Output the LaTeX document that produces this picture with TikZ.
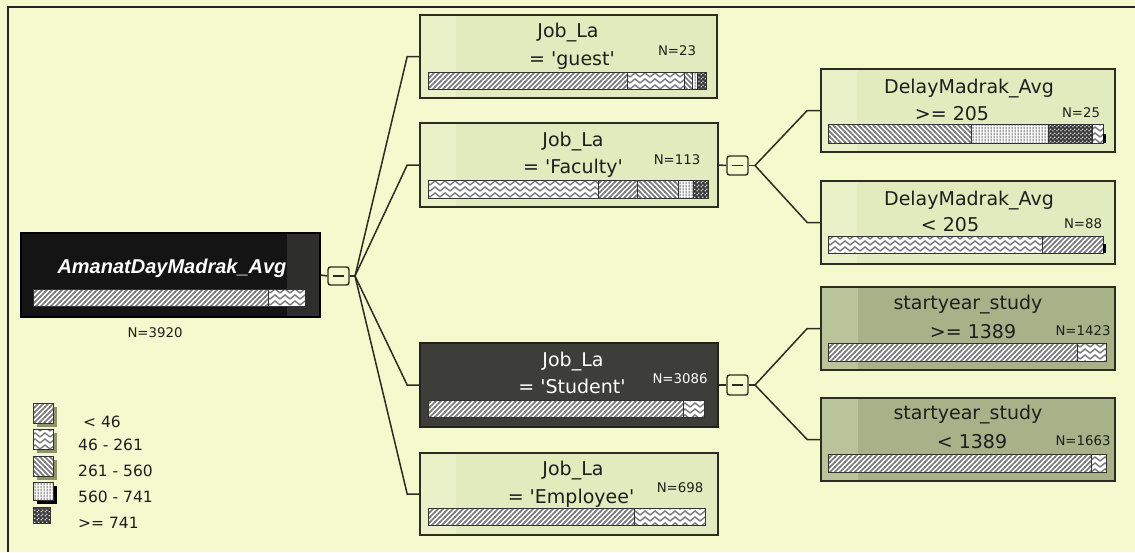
\documentclass[tikz,border=0pt]{standalone}
\usepackage{fontspec}
\setmainfont{DejaVu Sans}
\newfontfamily\arialf{Liberation Sans}
\usetikzlibrary{patterns}
\definecolor{bgc}{HTML}{F4FACD}
\definecolor{boxc}{HTML}{E2EBBD}
\definecolor{boxlite}{HTML}{EAF1C8}
\definecolor{olivc}{HTML}{A9B189}
\definecolor{olivlite}{HTML}{BBC39B}
\definecolor{studc}{HTML}{3D3E39}
\definecolor{rootc}{HTML}{141414}
\definecolor{rootlite}{HTML}{2E2E2C}
\definecolor{bordc}{HTML}{2A2D22}
\definecolor{txtc}{HTML}{1E1E1E}
\definecolor{hatchc}{HTML}{787878}
\definecolor{checkc}{HTML}{3A3A3A}
\definecolor{shadc}{HTML}{8E9468}
\pgfdeclarepatternformonly{hfwd}{\pgfqpoint{-1pt}{-1pt}}{\pgfqpoint{6pt}{6pt}}{\pgfqpoint{5pt}{5pt}}{%
  \pgfsetlinewidth{1.7pt}\pgfpathmoveto{\pgfqpoint{-0.5pt}{-0.5pt}}\pgfpathlineto{\pgfqpoint{5.5pt}{5.5pt}}\pgfusepath{stroke}}
\pgfdeclarepatternformonly{hbwd}{\pgfqpoint{-1pt}{-1pt}}{\pgfqpoint{6pt}{6pt}}{\pgfqpoint{5pt}{5pt}}{%
  \pgfsetlinewidth{1.7pt}\pgfpathmoveto{\pgfqpoint{-0.5pt}{5.5pt}}\pgfpathlineto{\pgfqpoint{5.5pt}{-0.5pt}}\pgfusepath{stroke}}
\pgfdeclarepatternformonly{hwave}{\pgfqpoint{0pt}{-1pt}}{\pgfqpoint{10pt}{7pt}}{\pgfqpoint{10pt}{6pt}}{%
  \pgfsetlinewidth{1.4pt}\pgfpathmoveto{\pgfqpoint{0pt}{1pt}}\pgfpathlineto{\pgfqpoint{5pt}{5pt}}\pgfpathlineto{\pgfqpoint{10pt}{1pt}}\pgfusepath{stroke}}
\pgfdeclarepatternformonly{hvert}{\pgfqpoint{0pt}{0pt}}{\pgfqpoint{2.6pt}{2.6pt}}{\pgfqpoint{2.6pt}{2.6pt}}{%
  \pgfsetlinewidth{1.1pt}\pgfpathmoveto{\pgfqpoint{1.3pt}{0pt}}\pgfpathlineto{\pgfqpoint{1.3pt}{2.6pt}}\pgfusepath{stroke}}
\pgfdeclarepatternformonly{hcheck}{\pgfqpoint{0pt}{0pt}}{\pgfqpoint{4pt}{4pt}}{\pgfqpoint{4pt}{4pt}}{%
  \pgfpathrectangle{\pgfqpoint{0pt}{0pt}}{\pgfqpoint{4pt}{4pt}}\pgfusepath{fill}}
\pgfdeclarepatternformonly{hdots}{\pgfqpoint{0pt}{0pt}}{\pgfqpoint{4pt}{4pt}}{\pgfqpoint{4pt}{4pt}}{%
  \pgfpathrectangle{\pgfqpoint{0.6pt}{0.6pt}}{\pgfqpoint{1.5pt}{1.5pt}}\pgfpathrectangle{\pgfqpoint{2.6pt}{2.6pt}}{\pgfqpoint{1.5pt}{1.5pt}}\pgfusepath{fill}}
\newcommand\barseg[5]{%
  \fill[white] (#1,#3) rectangle (#2,#4);
  \fill[pattern=#5,pattern color=hatchc] (#1,#3) rectangle (#2,#4);
  \draw[segline] (#1,#3) rectangle (#2,#4);}
\newcommand\checkseg[4]{%
  \fill[checkc] (#1,#3) rectangle (#2,#4);
  \fill[pattern=hdots,pattern color=white!85!black] (#1,#3) rectangle (#2,#4);
  \draw[segline] (#1,#3) rectangle (#2,#4);}
\newcommand\qs{\textquotesingle}
\tikzset{
  segline/.style={draw=black!80, line width=0.7pt},
  lightbox/.style={draw=bordc, line width=1.6pt, fill=boxc, inner sep=0pt,
    path picture={\fill[boxlite] (path picture bounding box.south west) rectangle ([xshift=36pt]path picture bounding box.north west);}},
  olivbox/.style={draw=bordc, line width=1.6pt, fill=olivc, inner sep=0pt,
    path picture={\fill[olivlite] (path picture bounding box.south west) rectangle ([xshift=37pt]path picture bounding box.north west);}},
  darkbox/.style={draw=bordc!80!black, line width=1.6pt, fill=studc, inner sep=0pt},
  rootbox/.style={draw=black, line width=1.6pt, fill=rootc, inner sep=0pt,
    path picture={\fill[rootlite] ([xshift=-33pt]path picture bounding box.south east) rectangle (path picture bounding box.north east);}},
  lbl/.style={anchor=base, inner sep=0pt, font=\fontsize{19}{22}\selectfont, text=txtc},
  nlbl/.style={anchor=base, inner sep=0pt, font=\fontsize{13.3}{15}\selectfont, text=txtc},
  roottxt/.style={anchor=base, inner sep=0pt, font=\arialf\bfseries\itshape\fontsize{20}{24}\selectfont, text=white},
  legtxt/.style={anchor=base west, inner sep=0pt, font=\fontsize{15.5}{18}\selectfont, text=txtc},
  collapse/.style={draw=bordc, line width=1.4pt, fill=bgc, rounded corners=2.5pt, minimum width=21pt, minimum height=18pt, inner sep=0pt,
    path picture={\draw[line width=1.4pt, bordc] ([xshift=5pt]path picture bounding box.west) -- ([xshift=-5pt]path picture bounding box.east);}},
  conn/.style={draw=bordc, line width=1.5pt},
  frame/.style={draw=black!85, line width=2pt}
}
\begin{document}
\begin{tikzpicture}[x=1pt,y=-1pt]
\useasboundingbox (0,0) rectangle (1135,552);
\fill[bgc] (0,0) rectangle (1135,552);
\draw[frame] (8,552) -- (8,7) -- (1135,7);

% ---------- root ----------
\node[rootbox, minimum width=299pt, minimum height=84pt] (root) at (170.5,275) {};
\node[roottxt] (rootlbl) at (172,273) {AmanatDayMadrak\_Avg};
\barseg{33}{268}{289}{306}{hfwd}
\barseg{268}{305}{289}{306}{hwave}
\node[nlbl] (rootn) at (155,337) {N=3920};
\node[collapse] (c0) at (338.5,276) {};
\coordinate (b0) at (355,276);

% ---------- level 1 ----------
\node[lightbox, minimum width=297pt, minimum height=83pt] (guest) at (568.5,56.5) {};
\node[lbl] (guestA) at (568,37) {Job\_La};
\node[lbl] (guestB) at (572,65) {= \qs guest\qs};
\node[nlbl] (guestN) at (677,55) {N=23};
\barseg{428}{627}{72}{89}{hfwd}
\barseg{627}{684}{72}{89}{hwave}
\barseg{684}{692}{72}{89}{hbwd}
\barseg{692}{697.5}{72}{89}{hvert}
\checkseg{697.5}{706}{72}{89}

\node[lightbox, minimum width=298pt, minimum height=84pt] (faculty) at (569,165) {};
\node[lbl] (facA) at (573,146) {Job\_La};
\node[lbl] (facB) at (573,173) {= \qs Faculty\qs};
\node[nlbl] (facN) at (677,164) {N=113};
\barseg{428}{598}{180}{198}{hwave}
\barseg{598}{637}{180}{198}{hfwd}
\barseg{637}{678}{180}{198}{hbwd}
\barseg{678}{693}{180}{198}{hvert}
\checkseg{693}{708}{180}{198}

\node[darkbox, minimum width=298pt, minimum height=84pt] (student) at (569,385) {};
\node[lbl, text=white] (stuA) at (573,366) {Job\_La};
\node[lbl, text=white] (stuB) at (572,393) {= \qs Student\qs};
\node[nlbl, text=white] (stuN) at (680,383) {N=3086};
\barseg{428}{683}{400}{417}{hfwd}
\barseg{683}{704}{400}{417}{hwave}

\node[lightbox, minimum width=298pt, minimum height=82pt] (employee) at (569,494) {};
\node[lbl] (empA) at (573,475) {Job\_La};
\node[lbl] (empB) at (571,503) {= \qs Employee\qs};
\node[nlbl] (empN) at (680,492) {N=698};
\barseg{428}{634}{508}{525}{hfwd}
\barseg{634}{705}{508}{525}{hwave}

\draw[conn] (root.east) -- (c0.west);
\draw[conn] (c0.east) -- (b0);
\draw[conn] (b0) -- ([xshift=-12pt]guest.west) -- (guest.west);
\draw[conn] (b0) -- ([xshift=-12pt]faculty.west) -- (faculty.west);
\draw[conn] (b0) -- ([xshift=-12pt]student.west) -- (student.west);
\draw[conn] (b0) -- ([xshift=-12pt]employee.west) -- (employee.west);

% ---------- level 2 (faculty) ----------
\node[collapse, minimum height=19pt] (c1) at (737.5,165.5) {};
\coordinate (b1) at (755,165.5);
\node[lightbox, minimum width=294pt, minimum height=83pt] (delay1) at (968,110.5) {};
\node[lbl] (d1A) at (969,93) {DelayMadrak\_Avg};
\node[lbl] (d1B) at (952,120) {>= 205};
\node[nlbl] (d1N) at (1081,117) {N=25};
\barseg{828}{971}{124}{143}{hbwd}
\barseg{971}{1048}{124}{143}{hvert}
\checkseg{1048}{1092}{124}{143}
\barseg{1092}{1103}{124}{143}{hwave}
\fill[black] (1103,134) rectangle (1106,143);

\node[lightbox, minimum width=294pt, minimum height=83pt] (delay2) at (968,222.5) {};
\node[lbl] (d2A) at (969,205) {DelayMadrak\_Avg};
\node[lbl] (d2B) at (950,231) {< 205};
\node[nlbl] (d2N) at (1083,228) {N=88};
\barseg{828}{1042}{236}{253}{hwave}
\barseg{1042}{1103}{236}{253}{hfwd}
\fill[black] (1103,244) rectangle (1106,253);

\draw[conn] (faculty.east) -- (c1.west);
\draw[conn] (c1.east) -- (b1);
\draw[conn] (b1) -- ([xshift=-13pt]delay1.west) -- (delay1.west);
\draw[conn] (b1) -- ([xshift=-13pt]delay2.west) -- (delay2.west);

% ---------- level 2 (student) ----------
\node[collapse, minimum height=20pt] (c2) at (737.5,385) {};
\coordinate (b2) at (755,385);
\node[olivbox, minimum width=294pt, minimum height=83pt] (start1) at (968,328.5) {};
\node[lbl] (s1A) at (968,309) {startyear\_study};
\node[lbl] (s1B) at (973,338) {>= 1389};
\node[nlbl] (s1N) at (1083,335) {N=1423};
\barseg{828}{1077}{343}{361}{hfwd}
\barseg{1077}{1106}{343}{361}{hwave}

\node[olivbox, minimum width=294pt, minimum height=83pt] (start2) at (968,439.5) {};
\node[lbl] (s2A) at (968,419) {startyear\_study};
\node[lbl] (s2B) at (972,448) {< 1389};
\node[nlbl] (s2N) at (1083,445) {N=1663};
\barseg{828}{1091}{454}{472}{hfwd}
\barseg{1091}{1106}{454}{472}{hwave}

\draw[conn] (student.east) -- (c2.west);
\draw[conn] (c2.east) -- (b2);
\draw[conn] (b2) -- ([xshift=-13pt]start1.west) -- (start1.west);
\draw[conn] (b2) -- ([xshift=-13pt]start2.west) -- (start2.west);

% ---------- legend ----------
\fill[shadc] (37,407) rectangle (57,427);
\barseg{33}{53}{403}{423}{hfwd}
\fill[shadc] (37,433) rectangle (57,453);
\barseg{33}{53}{429}{449}{hwave}
\fill[shadc] (37,460) rectangle (57,480);
\barseg{33}{53}{456}{476}{hbwd}
\fill[black] (37,486) rectangle (57,504);
\barseg{33}{53}{482}{500}{hvert}
\checkseg{33}{50}{507}{523}
\node[legtxt] (lg1) at (83,427) {< 46};
\node[legtxt] (lg2) at (78,450) {46 - 261};
\node[legtxt] (lg3) at (78,476) {261 - 560};
\node[legtxt] (lg4) at (78,502) {560 - 741};
\node[legtxt] (lg5) at (78,528) {>= 741};
\end{tikzpicture}
\end{document}
